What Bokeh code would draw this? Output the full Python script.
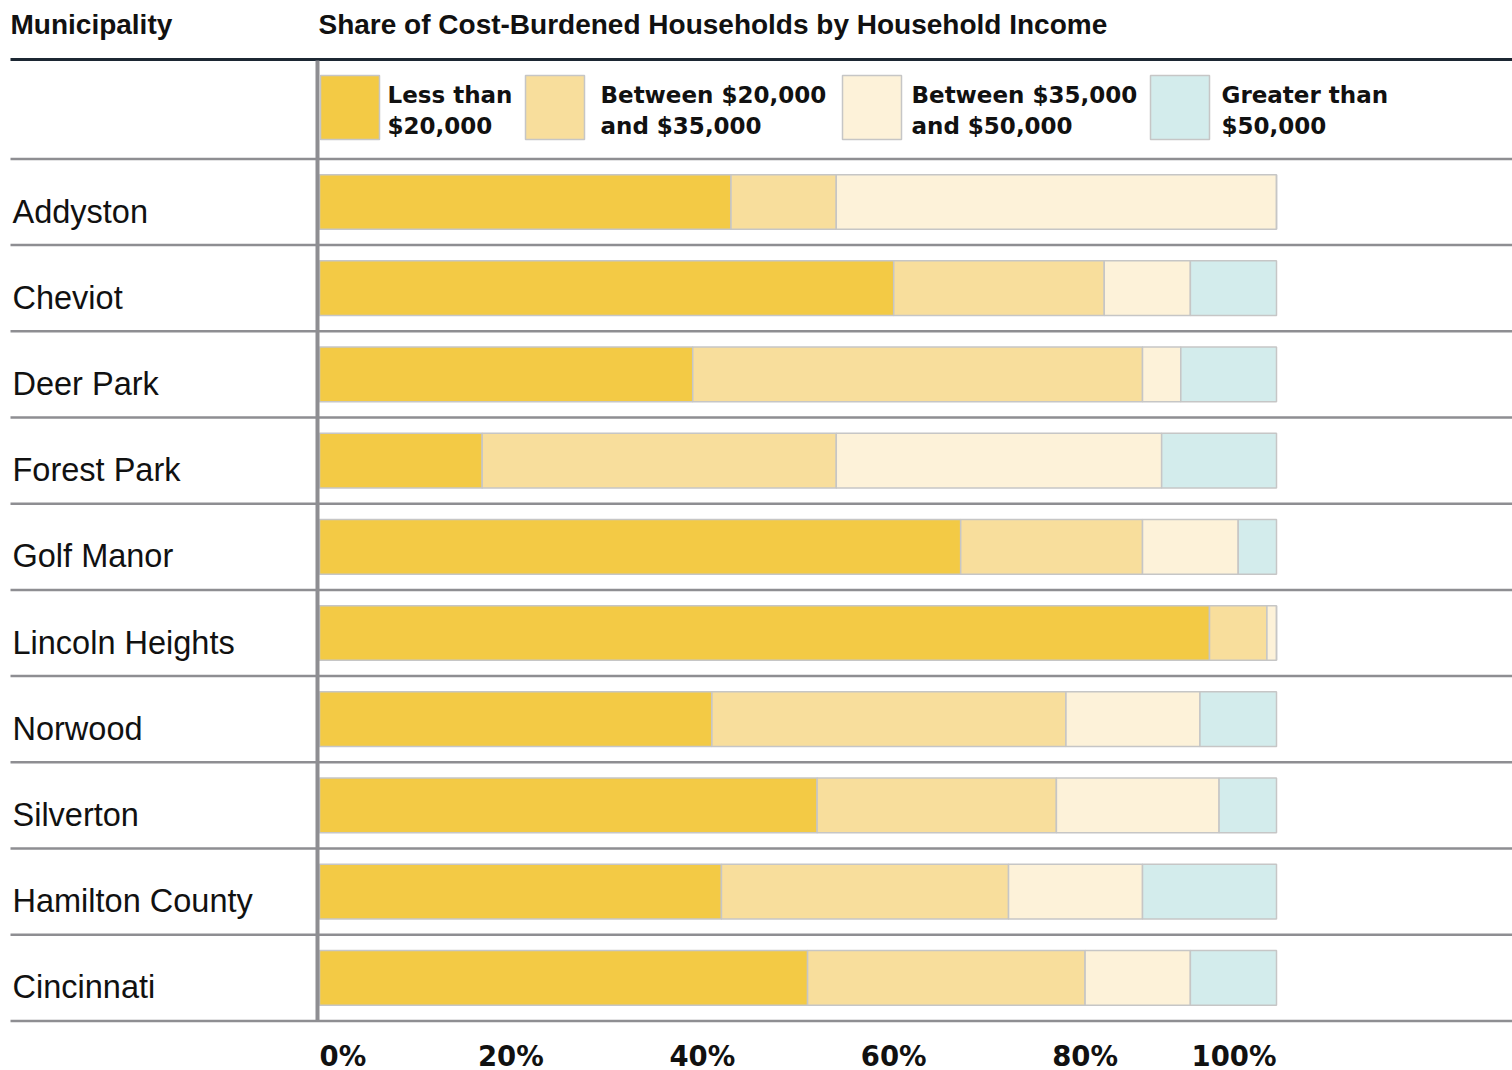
from bokeh.plotting import figure
from bokeh.models import Range1d, ColumnDataSource
from bokeh.embed import file_html
from bokeh.resources import INLINE
from bokeh.core.properties import value

# ---------------- data ----------------
municipalities = ["Addyston", "Cheviot", "Deer Park", "Forest Park", "Golf Manor",
                  "Lincoln Heights", "Norwood", "Silverton", "Hamilton County", "Cincinnati"]
series_keys = ["lt20k", "b20_35k", "b35_50k", "gt50k"]
series_labels = ["Less than\n$20,000", "Between $20,000\nand $35,000",
                 "Between $35,000\nand $50,000", "Greater than\n$50,000"]
lt20k   = [43, 60, 39, 17, 67, 93, 41, 52, 42, 51]
b20_35k = [11, 22, 47, 37, 19, 6, 37, 25, 30, 29]
b35_50k = [46, 9, 4, 34, 10, 1, 14, 17, 14, 11]
gt50k   = [0, 9, 10, 12, 4, 0, 8, 6, 14, 9]
tick_values = [0, 20, 40, 60, 80, 100]
tick_labels = ["0%", "20%", "40%", "60%", "80%", "100%"]
header_left = "Municipality"
header_title = "Share of Cost-Burdened Households by Household Income"

# ---------------- style / layout ----------------
W, H = 1512, 1070
colors = ["#F3CA45", "#F8DE9C", "#FDF2D9", "#D3ECEC"]
outline = "#C6C6C6"
X0_PX, PX_PER_PCT = 319.0, 9.57
Y0_PX, ROW_PX = 201.5, 86.2

def dx(px):
    return (px - X0_PX) / PX_PER_PCT

def dy(py):
    return (py - Y0_PX) / ROW_PX

n = len(municipalities)
idx = list(range(n))

p = figure(width=W, height=H, output_backend="svg", toolbar_location=None,
           x_axis_location=None, y_axis_location=None, min_border=0,
           x_range=Range1d(dx(0), dx(W)), y_range=Range1d(dy(H), dy(0)))
p.grid.visible = False
p.outline_line_color = None
p.background_fill_color = "white"
p.border_fill_color = "white"

# bars
src = ColumnDataSource(dict(y=idx, lt20k=lt20k, b20_35k=b20_35k, b35_50k=b35_50k, gt50k=gt50k))
p.hbar_stack(series_keys, y="y", height=0.635, color=colors, source=src,
             line_color=outline, line_width=1.5)

# header
p.text(x=[dx(10)], y=[dy(23.5)], text=[header_left], text_font=value("Liberation Sans"),
       text_font_size="28px", text_font_style="bold", text_color="#111111",
       text_baseline="alphabetic", text_align="left")
p.text(x=[dx(318)], y=[dy(23.5)], text=[header_title], text_font=value("Liberation Sans"),
       text_font_size="28px", text_font_style="bold", text_color="#111111",
       text_baseline="alphabetic", text_align="left")

# rules
p.segment(x0=[dx(10)], x1=[dx(W)], y0=[dy(59)], y1=[dy(59)], line_color="#1C2733", line_width=3)
sep_y = [i - 0.5 for i in range(n + 1)]
p.segment(x0=[dx(10)] * len(sep_y), x1=[dx(W)] * len(sep_y), y0=sep_y, y1=sep_y,
          line_color="#8E8E92", line_width=2.5)
p.segment(x0=[dx(317)], x1=[dx(317)], y0=[dy(60)], y1=[n - 0.5], line_color="#8E8E92", line_width=4)

# row labels
p.text(x=[dx(12)] * n, y=idx, text=municipalities, text_font=value("Liberation Sans"),
       text_font_size="32.5px", text_color="#111111", text_baseline="alphabetic",
       text_align="left", y_offset=9.5)

# legend (manual)
sw_left = [320, 525, 842, 1150]
lab_left = [387, 600, 911, 1221]
p.rect(x=[dx(l + 29.5) for l in sw_left], y=[dy(107)] * 4, width=59 / PX_PER_PCT,
       height=64 / ROW_PX, fill_color=colors, line_color=outline, line_width=1.5)
p.text(x=[dx(l) for l in lab_left], y=[dy(110)] * 4, text=series_labels,
       text_font=value("DejaVu Sans"), text_font_size="23px", text_font_style="bold",
       text_color="#111111", text_baseline="middle", text_align="left", text_line_height=1.22)

# x tick labels
aligns = ["left", "center", "center", "center", "center", "right"]
p.text(x=tick_values, y=[dy(1055)] * len(tick_values), text=tick_labels,
       text_font=value("DejaVu Sans"), text_font_size="27.5px", text_font_style="bold",
       text_color="#111111", text_baseline="alphabetic", text_align=aligns)

open("out.html", "w").write(file_html(p, INLINE))
